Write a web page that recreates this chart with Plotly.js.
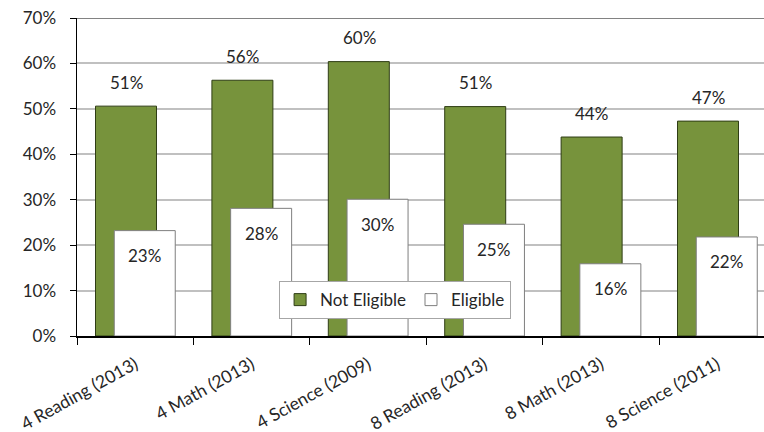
<!DOCTYPE html>
<html>
<head>
<meta charset="utf-8">
<script src="https://cdn.plot.ly/plotly-3.0.1.min.js"></script>
<style>html,body{margin:0;padding:0;background:#fff;}#chart{width:764px;height:432px;}</style>
</head>
<body>
<div id="chart"></div>
<script>
const categories = ["4 Reading (2013)", "4 Math (2013)", "4 Science (2009)", "8 Reading (2013)", "8 Math (2013)", "8 Science (2011)"];
const notEligible = [50.6, 56.3, 60.4, 50.5, 43.8, 47.3];
const eligible = [23.2, 28.1, 30.1, 24.6, 15.9, 21.8];
const yTickVals = [0, 10, 20, 30, 40, 50, 60, 70];

const FONT = "Lato, 'Open Sans', sans-serif";
const TXT = "#262626";
const BW = 0.524;

const traces = [
  {
    type: "bar", name: "Not Eligible", x: categories, y: notEligible,
    width: BW, offset: -0.341,
    marker: {color: "#77933C", line: {color: "#2F3D15", width: 1}},
    hoverinfo: "skip"
  },
  {
    type: "bar", name: "Eligible", x: categories, y: eligible,
    width: BW, offset: -0.18,
    marker: {color: "#FFFFFF", line: {color: "#7F7F7F", width: 1}},
    hoverinfo: "skip"
  }
];

const annotations = [];
categories.forEach((c, i) => {
  annotations.push({x: c, y: notEligible[i], text: Math.round(notEligible[i]) + "%", showarrow: false,
    xshift: -9, yshift: 24, yanchor: "middle", font: {family: FONT, size: 17, color: TXT}});
  annotations.push({x: c, y: eligible[i], text: Math.round(eligible[i]) + "%", showarrow: false,
    xshift: 9.5, yshift: -25, yanchor: "middle", font: {family: FONT, size: 17, color: TXT}});
});

const layout = {
  width: 764, height: 432,
  margin: {l: 77, r: 0, t: 18, b: 96},
  paper_bgcolor: "#fff", plot_bgcolor: "#fff",
  barmode: "overlay",
  font: {family: FONT, size: 17, color: TXT},
  xaxis: {
    type: "category", range: [-0.5, 5.402],
    tickangle: -29, tickson: "boundaries", ticks: "outside", ticklen: 7, tickcolor: "#000",
    showline: true, linecolor: "#000", linewidth: 1.5, showgrid: false,
    ticklabelstandoff: 10,
    tickfont: {family: FONT, size: 17.5, color: TXT}
  },
  yaxis: {
    range: [0, 70], tickvals: yTickVals, ticktext: yTickVals.map(v => v + "%"),
    ticks: "outside", ticklen: 6, tickcolor: "#000",
    showline: true, linecolor: "#000", linewidth: 1.5,
    showgrid: true, gridcolor: "#C0C0C0", gridwidth: 2, zeroline: false,
    ticklabelstandoff: 10,
    tickfont: {family: FONT, size: 17, color: TXT}
  },
  legend: {
    orientation: "h", x: 0.463, xanchor: "center", y: 0.113, yanchor: "middle",
    bgcolor: "#fff", bordercolor: "#A6A6A6", borderwidth: 1,
    font: {family: FONT, size: 17, color: TXT}
  },
  shapes: [{type: "line", xref: "paper", yref: "y", x0: 0, x1: 1, y0: 70, y1: 70,
    line: {color: "#595959", width: 1.5}}],
  annotations: annotations,
  showlegend: true
};

Plotly.newPlot("chart", traces, layout, {displayModeBar: false, staticPlot: true});
</script>
</body>
</html>
